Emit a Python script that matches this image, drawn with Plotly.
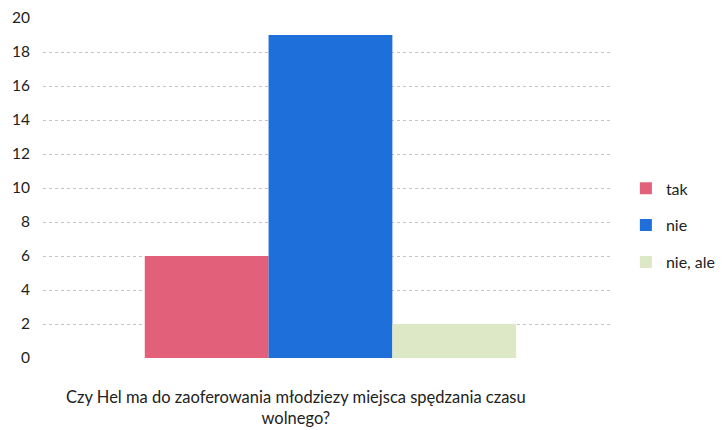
import plotly.graph_objects as go

category = ["Czy Hel ma do zaoferowania młodziezy miejsca spędzania czasu wolnego?"]
series_names = ["tak", "nie", "nie, ale"]
series_values = [[6], [19], [2]]
colors = ["#E2607A", "#1F6FDB", "#DCE8C6"]
y_ticks = list(range(0, 21, 2))

fig = go.Figure()
for i, (name, vals, col) in enumerate(zip(series_names, series_values, colors)):
    fig.add_trace(go.Bar(
        x=[0], y=vals, name=name, legendgroup=f"g{i}",
        marker=dict(color=col, line=dict(width=0)),
    ))

fig.update_layout(
    width=718, height=422,
    margin=dict(l=35, r=116, t=10, b=72, autoexpand=False),
    paper_bgcolor="white", plot_bgcolor="white",
    barmode="group", bargap=0.345, bargroupgap=0,
    font=dict(family="Lato, Open Sans, sans-serif", color="#222222", size=15),
    showlegend=True,
    legend=dict(
        x=1.028, xanchor="left", y=0.39, yanchor="middle",
        font=dict(size=16, color="#222222"),
        tracegroupgap=13, itemwidth=30,
        bgcolor="rgba(0,0,0,0)",
    ),
    xaxis=dict(showticklabels=False, showgrid=False, zeroline=False, showline=False,
               ticks="", automargin=False, range=[-0.507, 0.493]),
    yaxis=dict(
        range=[0, 20], tickvals=y_ticks, showgrid=True,
        gridcolor="#c4c4c4", griddash="dot", gridwidth=1,
        zeroline=False, showline=False, ticks="", automargin=False,
        tickfont=dict(size=15.5, color="#222222"),
        ticklabelstandoff=12,
    ),
    annotations=[dict(
        text=category[0].replace("czasu ", "czasu<br>"),
        xref="paper", yref="paper", x=0.446, y=-0.147,
        xanchor="center", yanchor="middle", showarrow=False,
        font=dict(size=16.5, color="#222222"),
    )],
)

fig.write_html("out.html")
